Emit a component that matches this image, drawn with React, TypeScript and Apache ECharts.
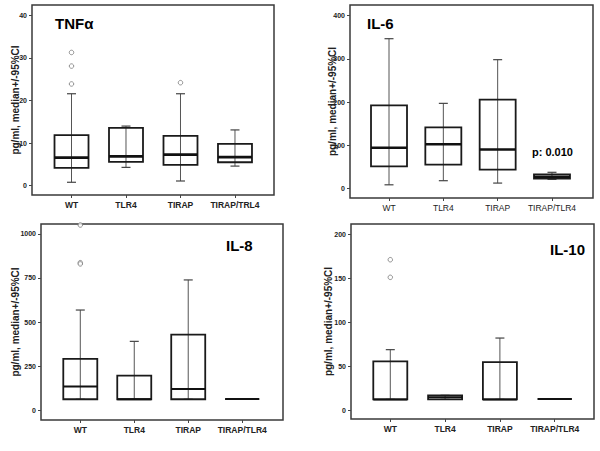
import React, { useEffect, useRef } from "react";
import * as echarts from "echarts";

const FONT = "'Liberation Sans', Arial, Helvetica, sans-serif";

// Category labels (panel 1 keeps the original "TRL4" spelling)
const categoriesTnf = ["WT", "TLR4", "TIRAP", "TIRAP/TRL4"];
const categories = ["WT", "TLR4", "TIRAP", "TIRAP/TLR4"];

// TNFα (pg/ml)
const tnfLow = [0.8, 4.3, 1.1, 4.6];
const tnfQ1 = [4.2, 5.6, 4.9, 5.5];
const tnfMed = [6.6, 6.9, 7.3, 6.7];
const tnfQ3 = [11.9, 13.6, 11.7, 9.8];
const tnfHigh = [21.6, 14.0, 21.6, 13.1];
const tnfOutliers = [[0, 31.3], [0, 28.1], [0, 23.9], [2, 24.2]];
const tnfTicks = [0, 10, 20, 30, 40];

// IL-6
const il6Low = [9, 18.5, 13, 21.7];
const il6Q1 = [51.6, 55.5, 43.9, 23.1];
const il6Med = [94.8, 102.5, 90.9, 27.7];
const il6Q3 = [192.7, 141.8, 205.8, 33.3];
const il6High = [346.8, 197.3, 298.3, 37.9];
const il6Ticks = [0, 100, 200, 300, 400];

// IL-8
const il8Low = [61, 61, 61, 62];
const il8Q1 = [61, 61, 61, 62];
const il8Med = [133, 61, 119, 62];
const il8Q3 = [290, 195, 428, 62];
const il8High = [568, 390, 739, 62];
const il8Outliers = [[0, 1051], [0, 837], [0, 830]];
const il8Ticks = [0, 250, 500, 750, 1000];

// IL-10
const il10Low = [12.1, 12.1, 12.1, 12.5];
const il10Q1 = [12.1, 12.1, 12.1, 12.5];
const il10Med = [12.1, 14.4, 12.1, 12.5];
const il10Q3 = [55.3, 16.7, 54.5, 12.5];
const il10High = [68.6, 16.7, 81.8, 12.5];
const il10Outliers = [[0, 170.8], [0, 150.8]];
const il10Ticks = [0, 50, 100, 150, 200];

const catIdx = [0, 1, 2, 3];

function boxData(low: number[], q1: number[], med: number[], q3: number[], high: number[]) {
  return catIdx.map((i) => [i, low[i], q1[i], med[i], q3[i], high[i]]);
}

function makeRender(halfW: number, medW: number) {
  return (params: any, api: any) => {
    const i = api.value(0);
    const pLow = api.coord([i, api.value(1)]);
    const pQ1 = api.coord([i, api.value(2)]);
    const pMed = api.coord([i, api.value(3)]);
    const pQ3 = api.coord([i, api.value(4)]);
    const pHigh = api.coord([i, api.value(5)]);
    const x = pMed[0];
    const cap = 4.5;
    return {
      type: "group",
      children: [
        { type: "line", shape: { x1: x, y1: pLow[1], x2: x, y2: pHigh[1] }, style: { stroke: "#555", lineWidth: 1 } },
        { type: "line", shape: { x1: x - cap, y1: pLow[1], x2: x + cap, y2: pLow[1] }, style: { stroke: "#444", lineWidth: 1.2 } },
        { type: "line", shape: { x1: x - cap, y1: pHigh[1], x2: x + cap, y2: pHigh[1] }, style: { stroke: "#444", lineWidth: 1.2 } },
        {
          type: "rect",
          shape: { x: x - halfW, y: pQ3[1], width: halfW * 2, height: pQ1[1] - pQ3[1] },
          style: { fill: "none", stroke: "#1a1a1a", lineWidth: 1.8 },
        },
        { type: "line", shape: { x1: x - halfW, y1: pMed[1], x2: x + halfW, y2: pMed[1] }, style: { stroke: "#111", lineWidth: medW } },
      ],
    };
  };
}

type PanelSpec = {
  left: number; top: number; width: number; height: number;
  xMin: number; xMax: number; yMin: number; yMax: number;
  ticks: number[]; cats: string[]; boldCats: boolean; nameGap: number;
};

const panels: PanelSpec[] = [
  { left: 32, top: 5, width: 242, height: 190, xMin: -0.725, xMax: 3.716, yMin: -2.19, yMax: 42.45, ticks: tnfTicks, cats: categoriesTnf, boldCats: true, nameGap: 12 },
  { left: 350, top: 5, width: 243, height: 193, xMin: -0.718, xMax: 3.755, yMin: -21.5, yMax: 424.7, ticks: il6Ticks, cats: categories, boldCats: false, nameGap: 13 },
  { left: 41, top: 224, width: 242, height: 196, xMin: -0.728, xMax: 3.756, yMin: -56.8, yMax: 1056.8, ticks: il8Ticks, cats: categories, boldCats: true, nameGap: 21 },
  { left: 351, top: 224, width: 243, height: 195, xMin: -0.717, xMax: 3.717, yMin: -10.2, yMax: 211.4, ticks: il10Ticks, cats: categories, boldCats: true, nameGap: 18 },
];

export default function App() {
  const ref = useRef<HTMLDivElement>(null);
  useEffect(() => {
    if (!ref.current) return;
    const chart = echarts.init(ref.current, null, { renderer: "svg" });

    const grid = panels.map((p) => ({
      left: p.left, top: p.top, width: p.width, height: p.height,
      show: true, borderColor: "#3a3a3a", borderWidth: 1.5, backgroundColor: "transparent",
    }));

    const xAxis = panels.map((p, k) => ({
      type: "value", gridIndex: k, min: p.xMin, max: p.xMax,
      axisLine: { show: false, onZero: false },
      axisTick: { show: true, length: 3, customValues: catIdx, lineStyle: { color: "#444" } },
      splitLine: { show: false },
      axisLabel: {
        customValues: catIdx, margin: 5,
        formatter: (v: number) => p.cats[Math.round(v)] ?? "",
        fontSize: 8.5, fontFamily: FONT, fontWeight: p.boldCats ? "bold" : "normal", color: "#222",
      },
    }));

    const yAxis = panels.map((p, k) => ({
      type: "value", gridIndex: k, min: p.yMin, max: p.yMax,
      name: "pg/ml, median+/-95%CI", nameLocation: "middle", nameGap: p.nameGap,
      nameMoveOverlap: false,
      nameTextStyle: { fontSize: 10, fontWeight: "bold", fontFamily: FONT, color: "#222" },
      axisLine: { show: false, onZero: false },
      axisTick: { show: true, length: 3, customValues: p.ticks, lineStyle: { color: "#444" } },
      splitLine: { show: false },
      axisLabel: {
        customValues: p.ticks, margin: 5,
        formatter: (v: number) => String(Math.round(v)),
        fontSize: 7, fontFamily: FONT, fontWeight: "bold", color: "#222",
      },
    }));

    const outlierStyle = { color: "#fff", borderColor: "#777", borderWidth: 1 };

    const series: any[] = [
      { type: "custom", xAxisIndex: 0, yAxisIndex: 0, renderItem: makeRender(17, 2.8), encode: { x: 0, y: [1, 2, 3, 4, 5] }, data: boxData(tnfLow, tnfQ1, tnfMed, tnfQ3, tnfHigh), silent: true },
      { type: "scatter", xAxisIndex: 0, yAxisIndex: 0, symbol: "circle", symbolSize: 4.5, itemStyle: outlierStyle, data: tnfOutliers, silent: true },
      { type: "custom", xAxisIndex: 1, yAxisIndex: 1, renderItem: makeRender(18, 2.5), encode: { x: 0, y: [1, 2, 3, 4, 5] }, data: boxData(il6Low, il6Q1, il6Med, il6Q3, il6High), silent: true },
      { type: "custom", xAxisIndex: 2, yAxisIndex: 2, renderItem: makeRender(17, 2), encode: { x: 0, y: [1, 2, 3, 4, 5] }, data: boxData(il8Low, il8Q1, il8Med, il8Q3, il8High), silent: true },
      { type: "scatter", xAxisIndex: 2, yAxisIndex: 2, symbol: "circle", symbolSize: 4.5, itemStyle: outlierStyle, data: il8Outliers, silent: true },
      { type: "custom", xAxisIndex: 3, yAxisIndex: 3, renderItem: makeRender(17, 2), encode: { x: 0, y: [1, 2, 3, 4, 5] }, data: boxData(il10Low, il10Q1, il10Med, il10Q3, il10High), silent: true },
      { type: "scatter", xAxisIndex: 3, yAxisIndex: 3, symbol: "circle", symbolSize: 4.5, itemStyle: outlierStyle, data: il10Outliers, silent: true },
    ];

    const titleStyle = { fontSize: 15, fontWeight: "bold", fontFamily: FONT, color: "#000" };
    const option: any = {
      animation: false,
      backgroundColor: "#fff",
      title: [
        { text: "TNFα", left: 55, top: 16, padding: 0, textStyle: titleStyle },
        { text: "IL-6", left: 367, top: 16, padding: 0, textStyle: titleStyle },
        { text: "IL-8", left: 226, top: 238, padding: 0, textStyle: titleStyle },
        { text: "IL-10", left: 550, top: 242, padding: 0, textStyle: titleStyle },
        { text: "p: 0.010", left: 532, top: 146, padding: 0, textStyle: { fontSize: 11, fontWeight: "bold", fontFamily: FONT, color: "#000" } },
      ],
      grid, xAxis, yAxis, series,
    };
    chart.setOption(option);
    return () => chart.dispose();
  }, []);
  return <div ref={ref} style={{ position: "absolute", left: 0, top: 0, width: 600, height: 451 }} />;
}
